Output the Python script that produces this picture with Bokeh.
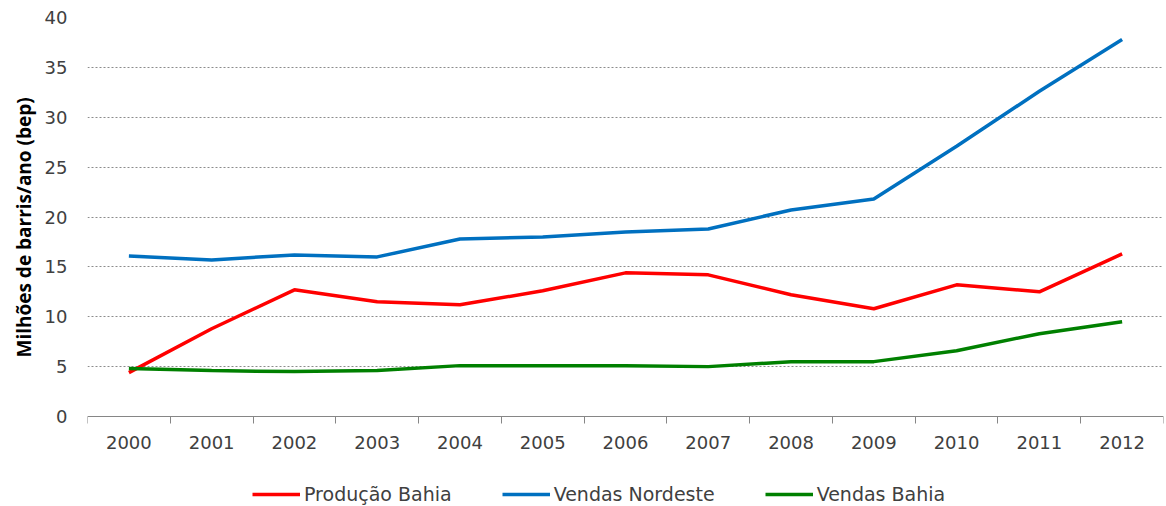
from bokeh.plotting import figure
from bokeh.models import FixedTicker, Legend, LegendItem, Range1d, Title
from bokeh.embed import file_html
from bokeh.resources import INLINE

years = ["2000", "2001", "2002", "2003", "2004", "2005", "2006",
         "2007", "2008", "2009", "2010", "2011", "2012"]
producao_bahia = [4.4, 8.8, 12.7, 11.5, 11.2, 12.6, 14.4, 14.2, 12.2, 10.8, 13.2, 12.5, 16.3]
vendas_nordeste = [16.1, 15.7, 16.2, 16.0, 17.8, 18.0, 18.5, 18.8, 20.7, 21.8, 27.1, 32.6, 37.8]
vendas_bahia = [4.8, 4.6, 4.5, 4.6, 5.1, 5.1, 5.1, 5.0, 5.5, 5.5, 6.6, 8.3, 9.5]
y_ticks = [0, 5, 10, 15, 20, 25, 30, 35, 40]
y_title = "Milhões de barris/ano (bep)"

xs = list(range(len(years)))

W, H = 1166, 506
TOP = 17          # pixel row of y=40
AXIS_Y = 416      # pixel row of y=0
ymax = 40
ymin = ymax - (H - TOP) * ymax / (AXIS_Y - TOP)   # frame extends below 0 to hold the legend

p = figure(width=W, height=H, output_backend="svg", toolbar_location=None,
           x_range=Range1d(-0.5, len(years) - 0.5), y_range=Range1d(ymin, ymax))
p.min_border_left = 87
p.min_border_right = 3
p.min_border_top = TOP
p.min_border_bottom = 0
p.outline_line_color = None
p.background_fill_color = "white"
p.border_fill_color = "white"

r1 = p.line(xs, producao_bahia, line_color="#FF0000", line_width=3.5)
r2 = p.line(xs, vendas_nordeste, line_color="#0070C0", line_width=3.5)
r3 = p.line(xs, vendas_bahia, line_color="#008000", line_width=3.5)

# X axis, pinned at y = 0
p.xaxis.fixed_location = 0
p.xaxis.ticker = FixedTicker(ticks=xs, minor_ticks=[i - 0.5 for i in range(len(years) + 1)])
p.xaxis.major_label_overrides = {i: y for i, y in enumerate(years)}
p.xaxis.major_tick_line_color = None
p.xaxis.major_tick_out = 0
p.xaxis.major_tick_in = 0
p.xaxis.minor_tick_line_color = "#868686"
p.xaxis.minor_tick_out = 7
p.xaxis.minor_tick_in = 0
p.xaxis.axis_line_color = "#868686"
p.xaxis.axis_line_width = 1
p.xaxis.major_label_standoff = 12
p.xaxis.major_label_text_font = "DejaVu Sans"
p.xaxis.major_label_text_font_size = "18px"
p.xaxis.major_label_text_color = "#404040"
p.xgrid.grid_line_color = None

# Y axis
p.yaxis.ticker = FixedTicker(ticks=y_ticks)
p.yaxis.axis_line_color = None
p.yaxis.major_tick_line_color = None
p.yaxis.major_tick_out = 0
p.yaxis.major_tick_in = 0
p.yaxis.minor_tick_line_color = None
p.yaxis.major_label_standoff = 20
p.yaxis.major_label_text_font = "DejaVu Sans"
p.yaxis.major_label_text_font_size = "18px"
p.yaxis.major_label_text_color = "#404040"
p.ygrid.ticker = FixedTicker(ticks=y_ticks[1:])
p.ygrid.grid_line_color = "#8c8c8c"
p.ygrid.grid_line_dash = "2 2"
p.ygrid.grid_line_width = 1

# y-axis title, centred on the 0-40 span rather than the whole frame
yt = Title(text=y_title, align="left", offset=H - 357, standoff=10,
           text_font="Open Sans", text_font_style="bold",
           text_font_size="19px", text_color="#000000")
p.add_layout(yt, "left")

legend = Legend(items=[
    LegendItem(label="Produção Bahia", renderers=[r1]),
    LegendItem(label="Vendas Nordeste", renderers=[r2]),
    LegendItem(label="Vendas Bahia", renderers=[r3]),
], orientation="horizontal", location=(165, 1))
legend.border_line_color = None
legend.background_fill_alpha = 0
legend.glyph_width = 48
legend.glyph_height = 20
legend.label_standoff = 4
legend.spacing = 50
legend.margin = 0
legend.padding = 0
legend.label_height = 20
legend.label_text_font = "DejaVu Sans"
legend.label_text_font_size = "19px"
legend.label_text_color = "#404040"
p.add_layout(legend, "center")

open("out.html", "w").write(file_html(p, INLINE))
